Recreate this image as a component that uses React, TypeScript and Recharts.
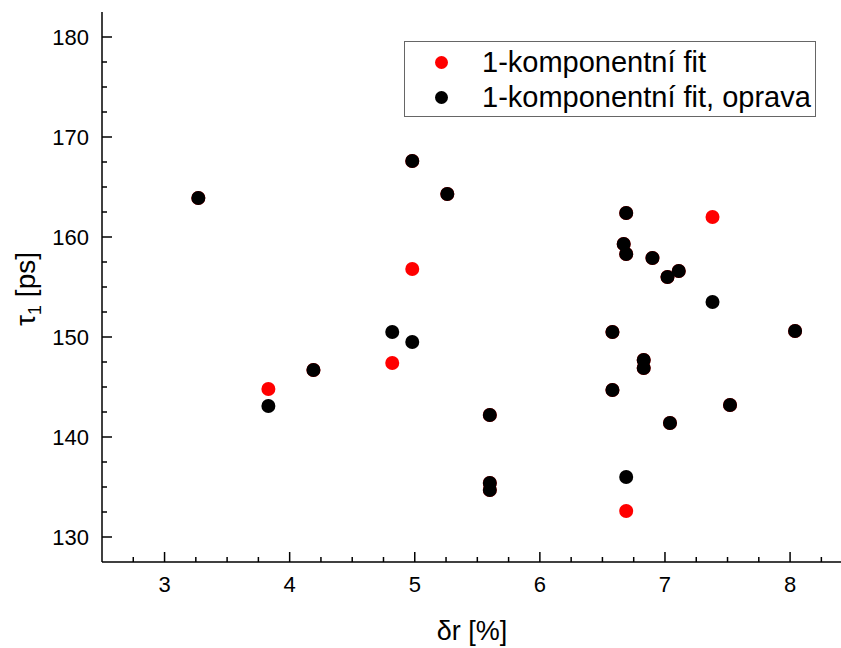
import { ScatterChart, Scatter, XAxis, YAxis, Legend, Label } from 'recharts';

// δr [%] for each sample
const dr = [3.27, 3.83, 4.19, 4.82, 4.98, 4.98, 5.26, 5.6, 5.6, 5.6, 6.58, 6.58, 6.69, 6.67, 6.69, 6.69, 6.9, 7.02, 7.11, 6.83, 6.83, 7.04, 7.38, 7.52, 8.04];
// τ1 [ps], 1-komponentní fit
const tauFit = [163.9, 144.8, 146.7, 147.4, 167.6, 156.8, 164.3, 142.2, 135.4, 134.7, 150.5, 144.7, 162.4, 159.3, 158.3, 132.6, 157.9, 156.0, 156.6, 147.7, 146.9, 141.4, 162.0, 143.2, 150.6];
// τ1 [ps], 1-komponentní fit, oprava
const tauOprava = [163.9, 143.1, 146.7, 150.5, 167.6, 149.5, 164.3, 142.2, 135.4, 134.7, 150.5, 144.7, 162.4, 159.3, 158.3, 136.0, 157.9, 156.0, 156.6, 147.7, 146.9, 141.4, 153.5, 143.2, 150.6];

const xTicks = [2.75, 3, 3.25, 3.5, 3.75, 4, 4.25, 4.5, 4.75, 5, 5.25, 5.5, 5.75, 6, 6.25, 6.5, 6.75, 7, 7.25, 7.5, 7.75, 8, 8.25];
const yTicks = [130, 132.5, 135, 137.5, 140, 142.5, 145, 147.5, 150, 152.5, 155, 157.5, 160, 162.5, 165, 167.5, 170, 172.5, 175, 177.5, 180];

const fitData = dr.map((x, i) => ({ x, y: tauFit[i] }));
const opravaData = dr.map((x, i) => ({ x, y: tauOprava[i] }));

const FONT = '"Liberation Sans", Arial, sans-serif';
const isMajor = (v: number) => v % 10 === 0;

const BottomTick = (p: any) => {
  const v = p.payload.value;
  const major = Number.isInteger(v);
  return (
    <g>
      <line x1={p.x} x2={p.x} y1={p.y} y2={p.y - (major ? 10 : 5)} stroke="#000" strokeWidth={1.5} />
      {major && (
        <text x={p.x} y={p.y + 30} textAnchor="middle" fontSize={22} fontFamily={FONT} fill="#000">
          {v}
        </text>
      )}
    </g>
  );
};

const TopTick = (p: any) => {
  const major = Number.isInteger(p.payload.value);
  return <line x1={p.x} x2={p.x} y1={p.y} y2={p.y + (major ? 10 : 5)} stroke="#000" strokeWidth={1.5} />;
};

const LeftTick = (p: any) => {
  const v = p.payload.value;
  const major = isMajor(v);
  return (
    <g>
      <line x1={p.x} x2={p.x + (major ? 10 : 5)} y1={p.y} y2={p.y} stroke="#000" strokeWidth={1.5} />
      {major && (
        <text x={p.x - 13} y={p.y + 8} textAnchor="end" fontSize={22} fontFamily={FONT} fill="#000">
          {v}
        </text>
      )}
    </g>
  );
};

const RightTick = (p: any) => {
  const major = isMajor(p.payload.value);
  return <line x1={p.x} x2={p.x - (major ? 10 : 5)} y1={p.y} y2={p.y} stroke="#000" strokeWidth={1.5} />;
};

const XLabel = (p: any) => {
  const vb = p.viewBox;
  return (
    <text x={vb.x + vb.width / 2} y={vb.y + vb.height - 8} textAnchor="middle" fontSize={27} fontFamily={FONT} fill="#000">
      δr [%]
    </text>
  );
};

const YLabel = (p: any) => {
  const vb = p.viewBox;
  const cx = 35;
  const cy = vb.y + vb.height / 2 + 2;
  return (
    <text x={cx} y={cy} transform={`rotate(-90, ${cx}, ${cy})`} textAnchor="middle" fontSize={28} fontFamily={FONT} fill="#000">
      τ<tspan dy={6} fontSize={18}>1</tspan>
      <tspan dy={-6}> [ps]</tspan>
    </text>
  );
};

const legendItems = [
  { label: '1-komponentní fit', color: '#ff0000' },
  { label: '1-komponentní fit, oprava', color: '#000000' },
];

const LegendBox = () => (
  <div style={{ position: 'relative', width: 412, height: 76, border: '1px solid #666', background: '#fff', boxSizing: 'border-box', fontFamily: FONT }}>
    {legendItems.map((it, i) => (
      <div key={it.label} style={{ position: 'absolute', left: 0, top: 3 + i * 35, height: 34, display: 'flex', alignItems: 'center' }}>
        <span style={{ display: 'inline-block', width: 13, height: 13, borderRadius: '50%', background: it.color, marginLeft: 30 }} />
        <span style={{ marginLeft: 34, fontSize: 29, color: '#000', whiteSpace: 'nowrap' }}>{it.label}</span>
      </div>
    ))}
  </div>
);

const dot = (color: string) => (p: any) => <circle cx={p.cx} cy={p.cy} r={7} fill={color} />;

export default function App() {
  return (
    <div style={{ position: 'fixed', left: 0, top: 0, width: 841, height: 648, overflow: 'hidden', background: '#fff' }}>
      <ScatterChart width={860} height={648} margin={{ top: 12, right: 18, bottom: 0, left: 0 }}>
        <XAxis
          xAxisId="b"
          type="number"
          dataKey="x"
          domain={[2.5, 8.415]}
          ticks={xTicks}
          interval={0}
          height={86}
          tickSize={0}
          tickMargin={0}
          tickLine={false}
          tick={BottomTick}
          axisLine={{ stroke: '#000', strokeWidth: 1.5 }}
          allowDataOverflow
        >
          <Label content={XLabel} />
        </XAxis>
        <XAxis
          xAxisId="t"
          orientation="top"
          type="number"
          dataKey="x"
          domain={[2.5, 8.415]}
          ticks={xTicks}
          interval={0}
          height={0}
          tickSize={0}
          tickMargin={0}
          tickLine={false}
          tick={TopTick}
          axisLine={{ stroke: '#000', strokeWidth: 1.5 }}
          allowDataOverflow
        />
        <YAxis
          yAxisId="l"
          type="number"
          dataKey="y"
          domain={[127.5, 182.5]}
          ticks={yTicks}
          interval={0}
          width={102}
          tickSize={0}
          tickMargin={0}
          tickLine={false}
          tick={LeftTick}
          axisLine={{ stroke: '#000', strokeWidth: 1.5 }}
          allowDataOverflow
        >
          <Label content={YLabel} />
        </YAxis>
        <YAxis
          yAxisId="r"
          orientation="right"
          type="number"
          dataKey="y"
          domain={[127.5, 182.5]}
          ticks={yTicks}
          interval={0}
          width={0}
          tickSize={0}
          tickMargin={0}
          tickLine={false}
          tick={RightTick}
          axisLine={{ stroke: '#000', strokeWidth: 1.5 }}
          allowDataOverflow
        />
        <Legend
          layout="vertical"
          align="center"
          verticalAlign="middle"
          content={LegendBox}
          wrapperStyle={{ position: 'absolute', left: 404, top: 41, width: 412, height: 76 }}
        />
        <Scatter name="1-komponentní fit" data={fitData} xAxisId="b" yAxisId="l" fill="#ff0000" shape={dot('#ff0000')} isAnimationActive={false} />
        <Scatter name="1-komponentní fit, oprava" data={opravaData} xAxisId="b" yAxisId="l" fill="#000000" shape={dot('#000000')} isAnimationActive={false} />
      </ScatterChart>
    </div>
  );
}
